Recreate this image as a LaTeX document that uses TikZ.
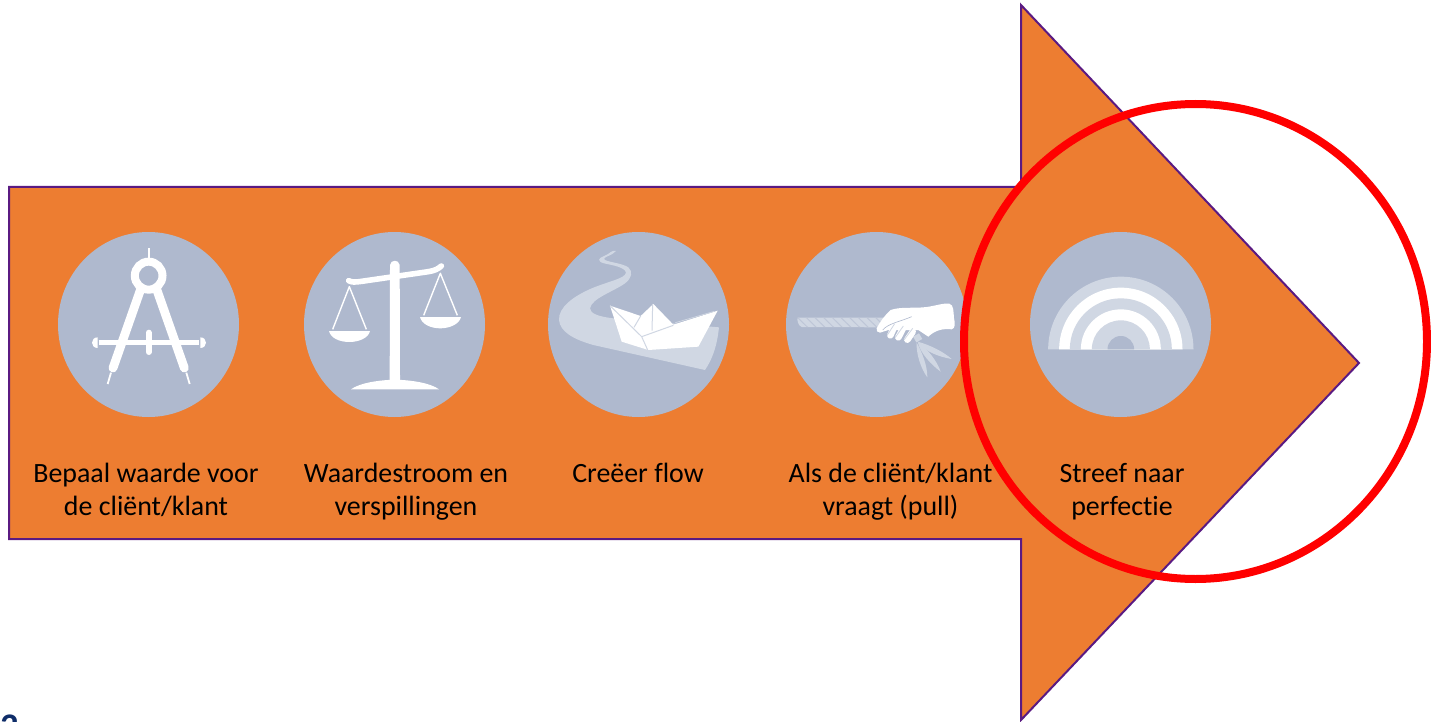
\documentclass[tikz,border=0pt]{standalone}
\usepackage{fontspec}
\setmainfont[Ligatures=NoCommon]{Carlito}
\definecolor{arroworange}{HTML}{ED7D31}
\definecolor{arrowedge}{HTML}{5A1A82}
\definecolor{disc}{HTML}{AFB9CE}
\definecolor{pale}{HTML}{D0D7E3}
\definecolor{navy}{HTML}{0F2D69}
\tikzset{
  discnode/.style={ellipse,fill=disc,minimum width=90.5pt,minimum height=92.5pt,inner sep=0pt},
  caption/.style={align=center,font=\fontsize{13.95}{16.5}\selectfont,text=black,inner sep=0pt},
  zoomA/.style={shift={(40,220)},x=0.16667pt,y=-0.16667pt},
  zoomB/.style={shift={(530,220)},x=0.16667pt,y=-0.16667pt},
  zoomC/.style={shift={(1020,225)},x=0.16667pt,y=-0.16667pt},
}
\usetikzlibrary{shapes.geometric}
\begin{document}
\begin{tikzpicture}[x=0.5pt,y=-0.5pt]
\useasboundingbox (0,0) rectangle (1431,722);
\clip (0,0) rectangle (1431,722);
\fill[white] (0,0) rectangle (1431,722);
% big arrow
\draw[fill=arroworange,draw=arrowedge,line width=1pt,line join=miter]
  (9,187) -- (1021,187) -- (1021,5) -- (1359,363) -- (1021,720) -- (1021,539) -- (9,539) -- cycle;
% discs
\node[discnode] (d1) at (148.5,324.5) {};
\node[discnode] (d2) at (394.5,324.5) {};
\node[discnode] (d3) at (638.5,324.5) {};
\node[discnode] (d4) at (876.5,324.5) {};
\node[discnode] (d5) at (1120.5,324.5) {};
% compass
\begin{scope}[zoomA]
  \draw[white,line width=0.9pt] (326,85) -- (326,118);
  \draw[white,line width=4pt] (326,167) ellipse [x radius=41.5,y radius=42];
  \draw[white,line width=4.4pt,line cap=round] (303,205) -- (219,444);
  \draw[white,line width=4.4pt,line cap=round] (349,205) -- (433,444);
  \draw[white,line width=0.9pt] (213,458) -- (203,492);
  \draw[white,line width=0.9pt] (439,458) -- (449,492);
  \draw[white,line width=2.7pt] (176,368) -- (478,368);
  \fill[white] (173,352) .. controls (162,352) and (156,360) .. (156,368) .. controls (156,376) and (162,384) .. (173,384) -- cycle;
  \fill[white] (481,352) .. controls (492,352) and (498,360) .. (498,368) .. controls (498,376) and (492,384) .. (481,384) -- cycle;
  \draw[white,line width=3pt,line cap=round] (326,338) -- (326,396);
\end{scope}
% balance
\begin{scope}[zoomA]
  \fill[white] (1049,480) -- (1050,135) .. controls (1052,118) and (1077,118) .. (1079,135) -- (1080,480) -- cycle;
  \draw[white,line width=2.8pt,line cap=round] (926,182) .. controls (935,187) and (945,187) .. (965,184) -- (1165,155) .. controls (1185,152) and (1195,146) .. (1204,138);
  \fill[white] (933,508) .. controls (960,488) and (1020,480) .. (1065,479) .. controls (1110,480) and (1170,488) .. (1197,508) -- cycle;
  \draw[white,line width=0.7pt,line join=round] (878,328) -- (928,200) -- (979,328);
  \fill[white] (867,333) -- (990,333) .. controls (985,355) and (955,366) .. (928,366) .. controls (900,366) and (872,355) .. (867,333) -- cycle;
  \draw[white,line width=0.7pt,line join=round] (1151,286) -- (1201,160) -- (1252,286);
  \fill[white] (1140,291) -- (1263,291) .. controls (1258,313) and (1228,325) .. (1201,325) .. controls (1173,325) and (1145,313) .. (1140,291) -- cycle;
\end{scope}
% river and boat
\begin{scope}[zoomB]
  \fill[pale] (258,93) .. controls (245,88) and (240,102) .. (222,108)
     .. controls (205,114) and (200,124) .. (222,130)
     .. controls (250,136) and (285,142) .. (288,158)
     .. controls (285,175) and (240,183) .. (190,203)
     .. controls (130,228) and (85,262) .. (87,300)
     .. controls (90,335) and (130,358) .. (190,375)
     -- (525,450) .. controls (545,420) and (560,385) .. (567,322)
     -- (250,295) .. controls (205,290) and (180,280) .. (180,265)
     .. controls (185,235) and (250,215) .. (285,190)
     .. controls (305,175) and (310,155) .. (295,142)
     .. controls (275,128) and (225,126) .. (222,117)
     .. controls (225,108) and (245,108) .. (258,93) -- cycle;
  \fill[white] (240,257) -- (332,288) -- (370,252) -- (430,314) -- (563,272)
     -- (505,380) -- (355,390) -- (275,365) -- cycle;
  \draw[pale,line width=0.5pt,line join=round] (240,257) -- (335,350) -- (353,390);
  \draw[pale,line width=0.5pt] (335,350) -- (430,316);
  \draw[pale,line width=0.5pt] (312,322) -- (332,288);
  \draw[pale,line width=0.5pt] (368,252) -- (366,332);
  \draw[pale,line width=0.4pt] (436,308) -- (553,274);
\end{scope}
% rope and hand
\begin{scope}[zoomB]
  \begin{scope}
    \clip (803,293) -- (1070,293) -- (1070,322) -- (815,321) .. controls (805,318) and (800,300) .. (803,293) -- cycle;
    \fill[pale] (800,290) rectangle (1075,325);
    \foreach \xpos in {800,826,...,1060}
      \draw[disc!55!pale,line width=0.5pt] (\xpos,290) -- (\xpos+36,325);
  \end{scope}
  % loose end
  \draw[pale,line width=3.4pt] (1158,345) -- (1168,362);
  \fill[pale] (1163,365) .. controls (1200,375) and (1240,395) .. (1265,417) .. controls (1225,410) and (1185,395) .. (1163,365) -- cycle;
  \fill[pale] (1163,365) .. controls (1190,385) and (1220,420) .. (1232,455) .. controls (1205,435) and (1170,400) .. (1163,365) -- cycle;
  \fill[pale] (1160,368) .. controls (1175,395) and (1192,435) .. (1192,472) .. controls (1172,445) and (1158,400) .. (1160,368) -- cycle;
  % hand
  \fill[white] (1040,325) .. controls (1050,305) and (1065,285) .. (1082,270)
     .. controls (1110,260) and (1150,265) .. (1180,262)
     .. controls (1210,260) and (1240,248) .. (1258,251)
     .. controls (1272,255) and (1270,275) .. (1272,295)
     .. controls (1276,310) and (1276,325) .. (1265,328)
     .. controls (1240,325) and (1215,330) .. (1195,350)
     -- (1165,330) -- (1075,330) -- (1050,338) .. controls (1042,338) and (1038,332) .. (1040,325) -- cycle;
  \draw[white,line width=3.3pt,line cap=round] (1092,322) -- (1081,346);
  \draw[white,line width=3.3pt,line cap=round] (1119,325) -- (1105,352);
  \draw[white,line width=3.3pt,line cap=round] (1148,335) -- (1132,359);
  \draw[disc,line width=0.3pt] (1058,330) .. controls (1075,310) and (1110,305) .. (1145,290);
  \draw[pale,line width=0.4pt] (1094,311) -- (1072,345);
  \draw[pale,line width=0.4pt] (1120,318) -- (1096,352);
  \draw[pale,line width=0.4pt] (1148,325) -- (1122,360);
\end{scope}
% rainbow
\begin{scope}[zoomC]
  \foreach \rad/\col in {218/pale,185/white,153/pale,120/white,87/pale,40/disc}
    \fill[\col] (302.5-\rad,373) arc[start angle=180,end angle=360,radius=\rad] -- cycle;
\end{scope}
% captions
\node[caption] (t1) at (146,489.5) {Bepaal waarde voor\\de cliënt/klant};
\node[caption] (t2) at (406,491.5) {Waardestroom en\\verspillingen};
\node[caption] (t3) at (638,473) {Creëer flow};
\node[caption] (t4) at (890.5,491.5) {Als de cliënt/klant\\vraagt (pull)};
\node[caption] (t5) at (1122,491.5) {Streef naar\\perfectie};
% red ring
\draw[red,line width=4pt] (1195.5,341.5) ellipse [x radius=231.5,y radius=237.5];
% cut-off text at the lower edge
\node[anchor=base west,inner sep=0pt,text=navy,font=\fontsize{18}{18}\bfseries] (pg) at (0,738) {2};
\end{tikzpicture}
\end{document}
